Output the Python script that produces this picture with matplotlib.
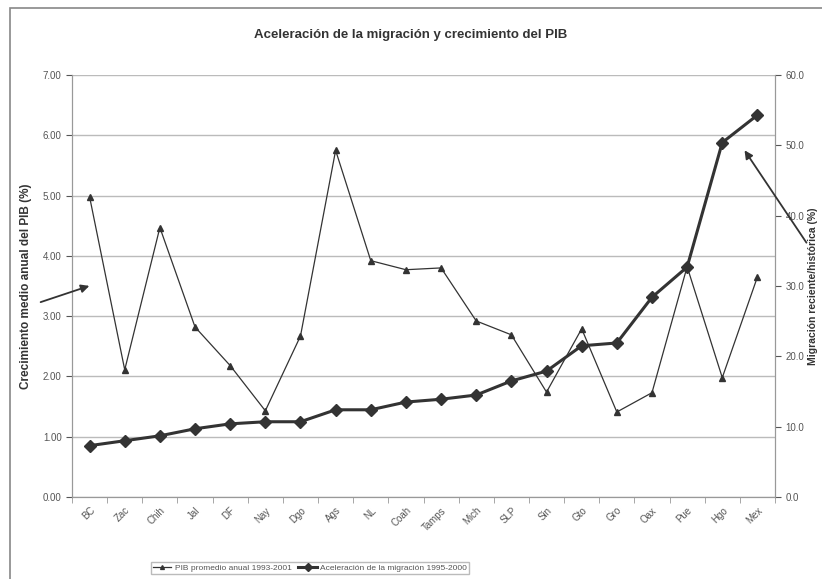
import matplotlib.pyplot as plt
from matplotlib.patches import Rectangle

plt.rcParams['font.family'] = ['Liberation Sans', 'DejaVu Sans']

estados = ["BC", "Zac", "Chih", "Jal", "DF", "Nay", "Dgo", "Ags", "NL", "Coah",
           "Tamps", "Mich", "SLP", "Sin", "Gto", "Gro", "Oax", "Pue", "Hgo", "Mex"]
pib = [4.98, 2.11, 4.47, 2.82, 2.18, 1.43, 2.67, 5.75, 3.92, 3.77,
       3.80, 2.92, 2.69, 1.74, 2.79, 1.41, 1.73, 3.82, 1.98, 3.65]
migracion = [7.3, 8.0, 8.7, 9.7, 10.4, 10.7, 10.7, 12.4, 12.4, 13.5,
             13.9, 14.5, 16.5, 17.9, 21.5, 21.9, 28.4, 32.7, 50.4, 54.3]

gris = "#333333"
txt = "#555555"

fig = plt.figure(figsize=(8.22, 5.79), dpi=100)
fig.patches.append(Rectangle((10 / 822, -0.01), 1.0, 1 - 8 / 579 + 0.01,
                             transform=fig.transFigure, fill=False,
                             edgecolor="#888888", linewidth=1.2))

ax = fig.add_axes([72 / 822, 1 - 497 / 579, 703 / 822, (497 - 75) / 579])
x = list(range(len(estados)))

l1, = ax.plot(x, pib, color=gris, linewidth=0.9, marker="^", markersize=4,
              label="PIB promedio anual 1993-2001", zorder=3)
ax.set_xlim(-0.5, len(estados) - 0.5)
ax.set_ylim(0, 7)
ax.set_yticks([0, 1, 2, 3, 4, 5, 6, 7])
ax.set_yticklabels([f"{v:.2f}" for v in range(8)])
ax.grid(axis="y", color="#bbbbbb", linewidth=1)
ax.set_axisbelow(True)
ax.set_xticks(x)
ax.set_xticklabels(estados, rotation=45, ha="right", rotation_mode="anchor")
ax.set_xticks([i - 0.5 for i in range(len(estados) + 1)], minor=True)
ax.tick_params(axis="x", which="major", length=0, labelsize=7, colors=txt, pad=6)
ax.tick_params(axis="x", which="minor", length=4, color="#999999")
ax.tick_params(axis="y", labelsize=7, colors=txt, length=4)
ax.set_ylabel("Crecimiento medio anual del PIB (%)", fontsize=8.5,
              fontweight="bold", color="#333333", labelpad=8)
ax.spines["top"].set_visible(False)
for s in ["left", "right", "bottom"]:
    ax.spines[s].set_color("#999999")

ax2 = ax.twinx()
l2, = ax2.plot(x, migracion, color=gris, linewidth=2.2, marker="D", markersize=6.5,
               label="Aceleración de la migración 1995-2000", zorder=4)
ax2.set_ylim(0, 60)
ax2.set_yticks([0, 10, 20, 30, 40, 50, 60])
ax2.set_yticklabels([f"{v:.1f}" for v in range(0, 70, 10)])
ax2.tick_params(axis="y", labelsize=7, colors=txt, length=4)
ax2.set_ylabel("Migración reciente/histórica (%)", fontsize=7.5,
               fontweight="bold", color="#333333", labelpad=3)
ax2.spines["top"].set_visible(False)
for s in ["left", "right", "bottom"]:
    ax2.spines[s].set_color("#999999")

fig.text(0.5, 1 - 35 / 579, "Aceleración de la migración y crecimiento del PIB",
         ha="center", va="center", fontsize=9.5, fontweight="bold", color="#333333")

leg = fig.legend(handles=[l1, l2], loc="center", ncol=2,
                 bbox_to_anchor=(310 / 822, 1 - 568 / 579), fontsize=6,
                 frameon=True, fancybox=False, edgecolor="#aaaaaa",
                 handlelength=2.2, columnspacing=0.8, handletextpad=0.4,
                 borderpad=0.3, markerscale=0.7)
for t in leg.get_texts():
    t.set_color(txt)

# flechas de anotacion
fig.add_artist(plt.Annotation("", xy=(92 / 822, 1 - 285 / 579),
                              xytext=(38 / 822, 1 - 303 / 579),
                              xycoords="figure fraction",
                              arrowprops=dict(arrowstyle="-|>", color=gris, lw=1.3,
                                              mutation_scale=12)))
fig.add_artist(plt.Annotation("", xy=(743 / 822, 1 - 148 / 579),
                              xytext=(808 / 822, 1 - 245 / 579),
                              xycoords="figure fraction",
                              arrowprops=dict(arrowstyle="-|>", color=gris, lw=1.3,
                                              mutation_scale=12)))

fig.savefig("out.png", dpi=100)
